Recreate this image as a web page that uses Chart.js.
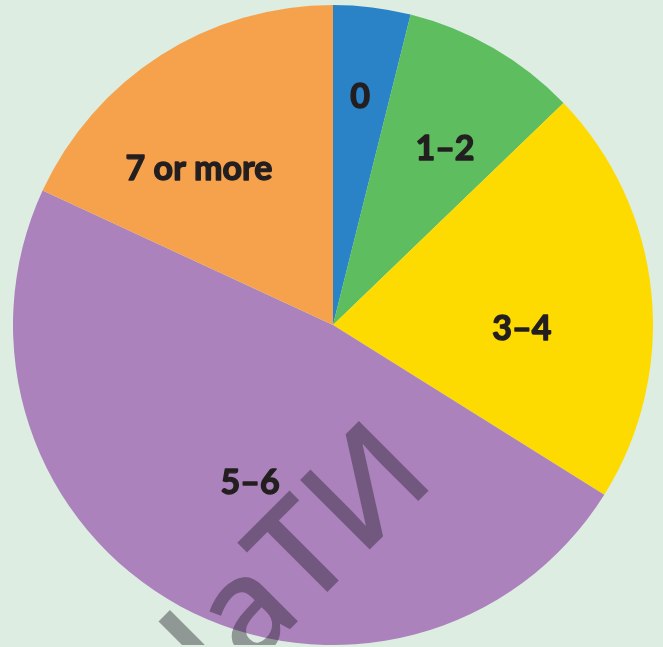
<!DOCTYPE html>
<html>
<head>
<meta charset="utf-8">
<script src="https://cdn.jsdelivr.net/npm/chart.js@4"></script>
<style>
  html, body { margin: 0; padding: 0; background: #ddede2; overflow: hidden; }
  body { width: 663px; height: 647px; position: relative; }
  #wrap { position: absolute; left: 13px; top: 5px; width: 640px; height: 640px; }
</style>
</head>
<body>
<div id="wrap"><canvas id="pieChart" width="640" height="640"></canvas></div>
<script>
// slices, clockwise from 12 o'clock (percent)
const categories = ['0', '1–2', '3–4', '5–6', '7 or more'];
const shares = [3.9, 8.9, 21.1, 48, 18.1];
const colors = ['#2a83c7', '#5dbd5f', '#fedb00', '#ab82bc', '#f6a24c'];

// where each label sits inside its slice
const labelRadius = [0.72, 0.655, 0.59, 0.556, 0.646];  // fraction of outer radius
const labelSpread = [0.48, 0.57, 0.59, 0.496, 0.38];    // fraction of slice angle

const sliceLabels = {
    id: 'sliceLabels',
    afterDatasetsDraw(chart) {
        const ctx = chart.ctx;
        const arcs = chart.getDatasetMeta(0).data;
        ctx.save();
        ctx.fillStyle = '#231f20';
        ctx.strokeStyle = '#231f20';
        ctx.lineWidth = 1.4;
        ctx.lineJoin = 'round';
        ctx.font = 'bold 34px Lato';
        ctx.textAlign = 'center';
        ctx.textBaseline = 'middle';
        arcs.forEach((arc, i) => {
            const p = arc.getProps(['x', 'y', 'startAngle', 'endAngle', 'outerRadius'], true);
            const a = p.startAngle + (p.endAngle - p.startAngle) * labelSpread[i];
            const r = p.outerRadius * labelRadius[i];
            const x = p.x + Math.cos(a) * r;
            const y = p.y + Math.sin(a) * r + 1;
            ctx.fillText(categories[i], x, y);
            ctx.strokeText(categories[i], x, y);
        });
        ctx.restore();
    }
};

// faint stamp across the lower half, laid out along a 45° line
const stamp = {
    id: 'stamp',
    afterDraw(chart) {
        const ctx = chart.ctx;
        const text = 'НaTИ';
        ctx.save();
        ctx.translate(-13, -5);          // page coordinates
        ctx.rotate(-Math.PI / 4);
        ctx.fillStyle = 'rgba(30, 25, 35, 0.4)';
        ctx.font = '600 138px "Open Sans"';
        ctx.textAlign = 'left';
        ctx.textBaseline = 'alphabetic';
        const before = ctx.measureText(text.slice(0, 2)).width;
        const tW = ctx.measureText('T').width;
        ctx.fillText(text, -179 - before - tW / 2, 650);
        ctx.restore();
    }
};

new Chart(document.getElementById('pieChart'), {
    type: 'pie',
    data: {
        labels: categories,
        datasets: [{
            data: shares,
            backgroundColor: colors,
            borderWidth: 0
        }]
    },
    options: {
        responsive: false,
        animation: false,
        layout: { padding: 0 },
        plugins: {
            legend: { display: false },
            tooltip: { enabled: false }
        }
    },
    plugins: [sliceLabels, stamp]
});
</script>
</body>
</html>
